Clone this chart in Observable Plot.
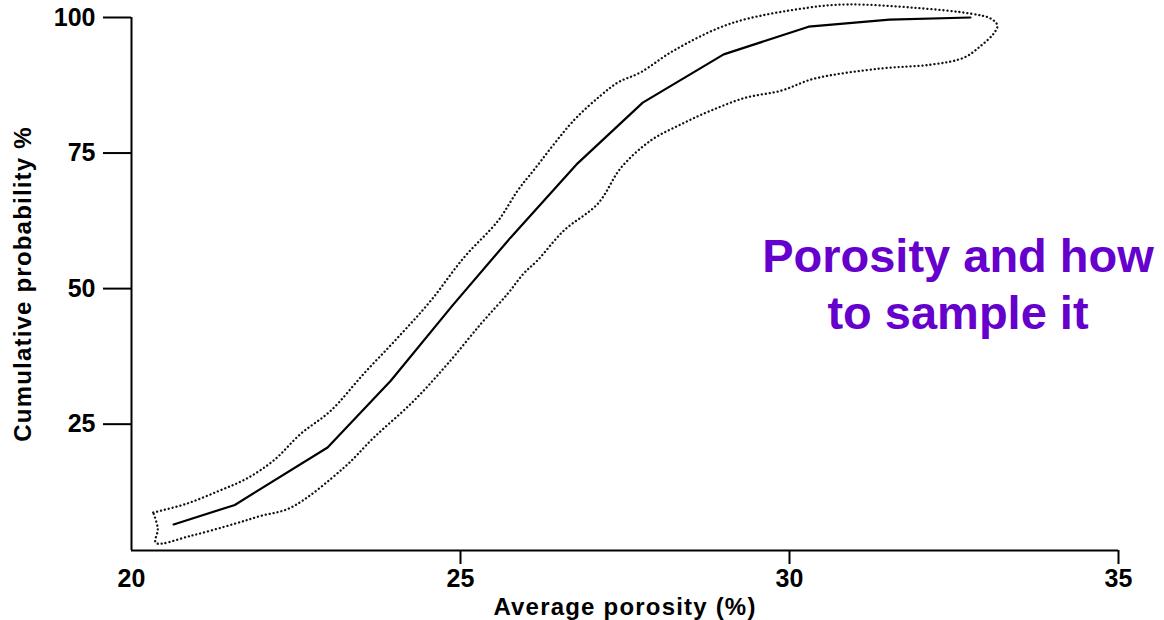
<!DOCTYPE html>
<html>
<head>
<meta charset="utf-8">
<script src="https://cdn.jsdelivr.net/npm/d3@7"></script>
<script src="https://cdn.jsdelivr.net/npm/@observablehq/plot@0.6"></script>
<style>
  body { margin: 0; background: #fff; }
  #chart { position: relative; width: 1164px; height: 620px; font-family: "Liberation Sans", Arial, sans-serif; }
  #note {
    position: absolute; left: 708px; top: 227px; width: 500px;
    text-align: center; color: #6600cc; font-weight: bold;
    font-size: 47px; line-height: 57px;
  }
  #chart svg g[aria-label="y-axis label"] text,
  #chart svg g[aria-label="x-axis label"] text { letter-spacing: 1.2px; }
</style>
</head>
<body>
<div id="chart"><div id="note">Porosity and how<br>to sample it</div></div>
<script>
// Axis ticks
const xTicks = [20, 25, 30, 35];
const yTicks = [25, 50, 75, 100];
const xDomain = [20, 35];
const yDomain = [1.7, 100];

// Median cumulative curve: average porosity (%) vs cumulative probability (%)
const medianPorosity = [20.64, 21.57, 22.98, 23.94, 24.88, 25.76, 26.78, 27.77, 29.0, 30.29, 31.52, 32.75];
const medianProb     = [6.5, 10.1, 20.7, 33.0, 46.9, 59.4, 73.1, 84.3, 93.2, 98.3, 99.6, 100];

// Uncertainty envelope, traced as a closed outline (upper edge left→right, lower edge right→left)
const envelopePorosity = [
  20.33, 20.83, 21.33, 21.74, 22.16, 22.57, 23.03, 23.53, 24.05, 24.55, 25.05, 25.57, 25.87, 26.11,
  26.72, 27.13, 27.39, 27.74, 28.24, 29.11, 30.28, 30.89, 31.89, 32.76, 33.06, 33.16, 33.10, 32.91,
  32.65, 32.15, 31.39, 30.37, 29.87, 29.33, 28.80, 28.35, 27.89, 27.44, 27.09, 26.57, 26.17, 25.96,
  25.72, 25.31, 24.81, 24.29, 23.68, 23.23, 22.42, 21.97, 21.56, 20.90, 20.37, 20.40, 20.33
];
const envelopeProb = [
  8.7, 10.3, 12.7, 14.9, 18.3, 23.2, 27.5, 34.3, 41.0, 47.8, 55.7, 62.5, 68.1, 71.8,
  81.0, 85.6, 88.0, 89.9, 93.9, 98.9, 101.8, 102.4, 101.8, 100.7, 99.8, 98.5, 97.0, 94.8,
  92.6, 91.3, 90.6, 88.7, 86.5, 85.2, 82.8, 80.3, 77.3, 72.3, 65.7, 60.7, 55.2, 52.8,
  49.1, 43.5, 36.2, 29.3, 22.5, 17.0, 9.6, 8.1, 6.6, 4.4, 3.1, 5.7, 8.7
];

const median = medianPorosity.map((x, i) => ({x, y: medianProb[i]}));
const envelope = envelopePorosity.map((x, i) => ({x, y: envelopeProb[i]}));

const chart = Plot.plot({
  width: 1164,
  height: 620,
  marginLeft: 131,
  marginRight: 46,
  marginTop: 17,
  marginBottom: 70,
  style: {
    fontFamily: '"Liberation Sans", Arial, sans-serif',
    fontSize: "24px",
    fontWeight: "bold",
    color: "#000",
    background: "#fff"
  },
  x: {domain: xDomain},
  y: {domain: yDomain},
  marks: [
    Plot.ruleX([xDomain[0]], {stroke: "#000", strokeWidth: 2}),
    Plot.ruleY([yDomain[0]], {stroke: "#000", strokeWidth: 2.2}),
    Plot.axisY({
      ticks: yTicks, tickSize: 28, tickPadding: 8, strokeWidth: 2, fontSize: 25,
      label: null
    }),
    Plot.axisY({
      ticks: [], tickSize: 0, fontSize: 24,
      label: "Cumulative probability %", labelAnchor: "center", labelArrow: "none", labelOffset: 118
    }),
    Plot.axisX({ticks: xTicks.slice(1), tickSize: 14, text: null, label: null, strokeWidth: 2}),
    Plot.axisX({
      ticks: xTicks, tickSize: 0, tickPadding: 19, fontSize: 25,
      label: null
    }),
    Plot.axisX({
      ticks: [], tickSize: 0, fontSize: 24, dx: 7,
      label: "Average porosity (%)", labelAnchor: "center", labelArrow: "none", labelOffset: 64
    }),
    Plot.line(envelope, {
      x: "x", y: "y", stroke: "#111", strokeWidth: 2.3,
      strokeDasharray: "0.1,3.9", strokeLinecap: "round", curve: "catmull-rom"
    }),
    Plot.line(median, {x: "x", y: "y", stroke: "#000", strokeWidth: 2.2})
  ]
});

document.getElementById("chart").prepend(chart);
</script>
</body>
</html>
